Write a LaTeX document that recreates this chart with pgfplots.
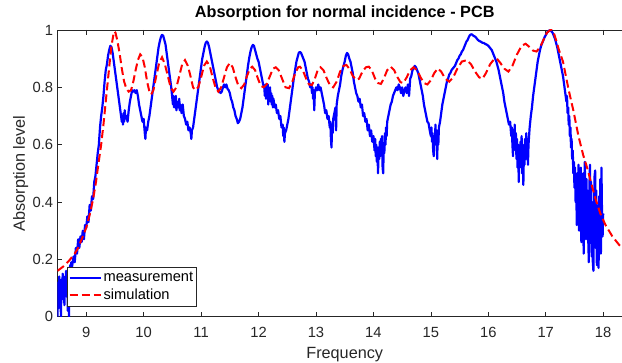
\documentclass[border=0pt]{standalone}
\usepackage{fontspec}
\setmainfont{Liberation Sans}
\usepackage{pgfplots}
\pgfplotsset{compat=1.18}

\definecolor{axisgray}{HTML}{262626}
\definecolor{mblue}{HTML}{0000FF}
\definecolor{sred}{HTML}{FF0000}

\begin{document}
\begin{tikzpicture}
\begin{axis}[
   width=574.4bp, height=286.7bp, scale only axis,
   xmin=8.5, xmax=18.5,
   ymin=0, ymax=1,
   xtick={9,10,11,12,13,14,15,16,17,18},
   ytick={0,0.2,0.4,0.6,0.8,1},
   yticklabels={0,0.2,0.4,0.6,0.8,1},
   tick align=inside,
   major tick length=5bp,
   axis line style={color=axisgray, line width=0.5bp},
   every tick/.style={color=axisgray, line width=0.5bp},
   /pgf/number format/assume math mode=true,
   tick label style={font=\fontsize{14.8}{16}\selectfont, color=axisgray, inner sep=0pt},
   yticklabel style={xshift=-4.2bp},
   xticklabel style={yshift=-10bp},
   xlabel={Frequency},
   ylabel={Absorption level},
   xlabel style={at={(axis description cs:0.5,-0.145)}, anchor=base, font=\fontsize{16.3}{18}\selectfont, color=axisgray, inner sep=0pt},
   ylabel style={at={(axis description cs:-0.0566,0.5)}, anchor=base, font=\fontsize{16.3}{18}\selectfont, color=axisgray, inner sep=0pt},
   title={Absorption for normal incidence - PCB},
   title style={at={(axis description cs:0.5,1.0234)}, anchor=base, font=\fontsize{16.3}{18}\selectfont\bfseries, inner sep=0pt},
   legend cell align=left,
   legend image code/.code={\draw[#1] (0bp,0bp) -- (31bp,0bp);},
   legend style={at={(axis description cs:0,0)}, anchor=south west, xshift=9.2bp, yshift=10bp,
      draw=axisgray, line width=0.5bp, fill=white, inner xsep=1.5bp, inner ysep=3.5bp,
      row sep=1.5bp, font=\fontsize{14.7}{16}\selectfont, nodes={inner sep=2bp}},
]

% measurement
\addplot[mblue, line width=2.2bp, line join=round] coordinates {
(8.50,0.00) (8.51,0.12) (8.52,0.03) (8.53,0.14) (8.54,0.05) (8.55,0.10) (8.56,0.00) (8.57,0.13)
(8.58,0.06) (8.59,0.15) (8.60,0.08) (8.61,0.14) (8.62,0.04) (8.63,0.12) (8.64,0.09) (8.65,0.16)
(8.66,0.07) (8.67,0.14) (8.68,0.02) (8.69,0.10) (8.70,0.00) (8.71,0.12) (8.72,0.18) (8.73,0.13)
(8.74,0.19) (8.75,0.17) (8.78,0.21) (8.80,0.19) (8.82,0.24) (8.84,0.22) (8.86,0.27) (8.88,0.24)
(8.90,0.28) (8.92,0.26) (8.94,0.30) (8.96,0.27) (8.98,0.32) (9.00,0.31) (9.02,0.35) (9.04,0.33)
(9.06,0.39) (9.08,0.37) (9.10,0.42) (9.12,0.41) (9.14,0.47) (9.16,0.49) (9.18,0.53) (9.20,0.57)
(9.22,0.60) (9.24,0.66) (9.26,0.70) (9.28,0.73) (9.30,0.77) (9.32,0.82) (9.34,0.86) (9.36,0.88)
(9.38,0.91) (9.40,0.93) (9.42,0.945) (9.44,0.94) (9.46,0.92) (9.48,0.89) (9.50,0.86) (9.52,0.83)
(9.54,0.80) (9.56,0.77) (9.58,0.74) (9.60,0.71) (9.62,0.68) (9.63,0.70) (9.64,0.67) (9.65,0.71)
(9.66,0.68) (9.67,0.72) (9.68,0.69) (9.70,0.70) (9.72,0.68) (9.74,0.72) (9.76,0.75) (9.78,0.77)
(9.80,0.79) (9.82,0.785) (9.84,0.79) (9.86,0.78) (9.88,0.79) (9.90,0.77) (9.92,0.74) (9.94,0.72)
(9.96,0.70) (9.98,0.68) (10.00,0.69) (10.02,0.64) (10.03,0.62) (10.04,0.66) (10.06,0.65) (10.08,0.68)
(10.10,0.70) (10.12,0.73) (10.14,0.76) (10.16,0.79) (10.18,0.82) (10.20,0.85) (10.22,0.88) (10.24,0.91)
(10.26,0.94) (10.28,0.96) (10.30,0.975) (10.32,0.983) (10.34,0.98) (10.36,0.965) (10.38,0.95) (10.40,0.92)
(10.42,0.89) (10.44,0.86) (10.46,0.83) (10.48,0.80) (10.50,0.76) (10.51,0.74) (10.52,0.77) (10.53,0.73)
(10.54,0.76) (10.55,0.74) (10.56,0.77) (10.57,0.72) (10.58,0.75) (10.60,0.73) (10.62,0.76) (10.63,0.72)
(10.64,0.74) (10.66,0.71) (10.68,0.74) (10.70,0.70) (10.72,0.69) (10.74,0.67) (10.76,0.68) (10.78,0.65)
(10.80,0.66) (10.82,0.64) (10.83,0.62) (10.84,0.65) (10.86,0.66) (10.88,0.69) (10.90,0.72) (10.92,0.75)
(10.94,0.78) (10.96,0.81) (10.98,0.84) (11.00,0.87) (11.02,0.90) (11.04,0.92) (11.06,0.94) (11.08,0.955)
(11.10,0.96) (11.12,0.955) (11.14,0.94) (11.16,0.92) (11.18,0.90) (11.20,0.88) (11.22,0.86) (11.24,0.84)
(11.26,0.82) (11.28,0.80) (11.30,0.79) (11.32,0.785) (11.34,0.78) (11.36,0.785) (11.38,0.80) (11.40,0.81)
(11.42,0.80) (11.44,0.81) (11.46,0.795) (11.48,0.79) (11.50,0.78) (11.52,0.76) (11.54,0.75) (11.56,0.73)
(11.58,0.72) (11.60,0.70) (11.62,0.69) (11.64,0.675) (11.66,0.68) (11.68,0.69) (11.70,0.71) (11.72,0.73)
(11.74,0.76) (11.76,0.79) (11.78,0.82) (11.80,0.85) (11.82,0.88) (11.84,0.905) (11.86,0.925) (11.88,0.94)
(11.90,0.948) (11.92,0.945) (11.94,0.93) (11.96,0.915) (11.98,0.90) (12.00,0.89) (12.02,0.87) (12.04,0.85)
(12.06,0.83) (12.08,0.81) (12.10,0.80) (12.11,0.77) (12.12,0.81) (12.13,0.76) (12.14,0.80) (12.15,0.77)
(12.16,0.81) (12.17,0.74) (12.18,0.79) (12.19,0.76) (12.20,0.80) (12.21,0.75) (12.22,0.78) (12.23,0.74)
(12.24,0.77) (12.25,0.73) (12.26,0.76) (12.28,0.73) (12.30,0.74) (12.32,0.71) (12.34,0.72) (12.36,0.69)
(12.38,0.70) (12.40,0.66) (12.42,0.67) (12.43,0.63) (12.44,0.66) (12.45,0.61) (12.46,0.64) (12.48,0.65)
(12.50,0.67) (12.52,0.69) (12.54,0.72) (12.56,0.75) (12.58,0.78) (12.60,0.81) (12.62,0.84) (12.64,0.865)
(12.66,0.89) (12.68,0.905) (12.70,0.92) (12.72,0.924) (12.74,0.92) (12.76,0.91) (12.78,0.90) (12.80,0.89)
(12.82,0.87) (12.84,0.85) (12.86,0.83) (12.88,0.82) (12.90,0.80) (12.92,0.81) (12.93,0.78) (12.94,0.80)
(12.95,0.76) (12.96,0.79) (12.97,0.72) (12.98,0.78) (13.00,0.80) (13.02,0.79) (13.04,0.81) (13.06,0.79)
(13.08,0.80) (13.10,0.78) (13.12,0.76) (13.14,0.74) (13.16,0.71) (13.18,0.72) (13.20,0.69) (13.22,0.70)
(13.24,0.66) (13.25,0.68) (13.26,0.62) (13.27,0.59) (13.28,0.66) (13.29,0.64) (13.30,0.69) (13.32,0.71)
(13.34,0.73) (13.35,0.65) (13.36,0.74) (13.38,0.77) (13.40,0.79) (13.42,0.81) (13.44,0.84) (13.46,0.86)
(13.48,0.875) (13.50,0.89) (13.52,0.91) (13.54,0.92) (13.56,0.915) (13.58,0.90) (13.60,0.89) (13.62,0.87)
(13.64,0.85) (13.66,0.82) (13.68,0.80) (13.70,0.78) (13.72,0.77) (13.74,0.75) (13.76,0.76) (13.78,0.73)
(13.80,0.74) (13.82,0.70) (13.84,0.71) (13.86,0.68) (13.88,0.69) (13.90,0.65) (13.92,0.67) (13.94,0.63)
(13.96,0.65) (13.98,0.61) (14.00,0.63) (14.02,0.58) (14.03,0.62) (14.04,0.56) (14.05,0.60) (14.06,0.54)
(14.07,0.59) (14.08,0.50) (14.09,0.58) (14.10,0.55) (14.11,0.61) (14.12,0.56) (14.13,0.62) (14.14,0.57)
(14.15,0.63) (14.16,0.52) (14.17,0.50) (14.18,0.60) (14.19,0.57) (14.20,0.64) (14.21,0.60) (14.22,0.66)
(14.23,0.63) (14.24,0.68) (14.26,0.70) (14.28,0.72) (14.30,0.74) (14.32,0.75) (14.34,0.77) (14.36,0.78)
(14.38,0.79) (14.40,0.80) (14.42,0.79) (14.44,0.81) (14.46,0.80) (14.48,0.78) (14.50,0.80) (14.52,0.77)
(14.54,0.79) (14.56,0.80) (14.58,0.78) (14.60,0.81) (14.62,0.77) (14.64,0.83) (14.66,0.84) (14.68,0.86)
(14.70,0.865) (14.72,0.875) (14.74,0.87) (14.76,0.86) (14.78,0.85) (14.80,0.83) (14.82,0.81) (14.84,0.79)
(14.86,0.77) (14.88,0.74) (14.90,0.72) (14.92,0.70) (14.94,0.68) (14.96,0.675) (14.98,0.65) (15.00,0.63)
(15.01,0.66) (15.02,0.61) (15.03,0.64) (15.04,0.58) (15.05,0.56) (15.06,0.62) (15.07,0.60) (15.08,0.67)
(15.09,0.60) (15.10,0.65) (15.11,0.55) (15.12,0.63) (15.13,0.60) (15.14,0.66) (15.16,0.68) (15.18,0.71)
(15.20,0.74) (15.22,0.76) (15.24,0.78) (15.26,0.80) (15.28,0.82) (15.30,0.83) (15.32,0.845) (15.34,0.85)
(15.36,0.86) (15.38,0.865) (15.40,0.87) (15.42,0.875) (15.44,0.885) (15.46,0.895) (15.48,0.90) (15.50,0.91)
(15.52,0.915) (15.54,0.925) (15.56,0.93) (15.58,0.94) (15.60,0.95) (15.62,0.96) (15.64,0.965) (15.66,0.975)
(15.68,0.982) (15.70,0.985) (15.72,0.984) (15.74,0.98) (15.76,0.978) (15.78,0.975) (15.80,0.97) (15.82,0.965)
(15.84,0.962) (15.86,0.96) (15.88,0.958) (15.90,0.955) (15.92,0.955) (15.94,0.952) (15.96,0.95) (15.98,0.948)
(16.00,0.945) (16.02,0.94) (16.04,0.935) (16.06,0.93) (16.08,0.92) (16.10,0.91) (16.12,0.90) (16.14,0.89)
(16.16,0.875) (16.18,0.86) (16.20,0.84) (16.22,0.82) (16.24,0.80) (16.26,0.78) (16.28,0.75) (16.30,0.73)
(16.32,0.71) (16.34,0.69) (16.36,0.67) (16.38,0.68) (16.40,0.63) (16.41,0.66) (16.42,0.60) (16.43,0.56)
(16.44,0.64) (16.45,0.61) (16.46,0.67) (16.47,0.58) (16.48,0.64) (16.49,0.55) (16.50,0.62) (16.51,0.52)
(16.52,0.60) (16.53,0.47) (16.54,0.58) (16.55,0.52) (16.56,0.61) (16.57,0.55) (16.58,0.63) (16.59,0.50)
(16.60,0.60) (16.61,0.46) (16.62,0.58) (16.63,0.53) (16.64,0.62) (16.65,0.55) (16.66,0.64) (16.67,0.58)
(16.68,0.62) (16.69,0.53) (16.70,0.60) (16.72,0.66) (16.74,0.70) (16.76,0.73) (16.78,0.77) (16.80,0.80)
(16.82,0.83) (16.84,0.86) (16.86,0.89) (16.88,0.91) (16.90,0.93) (16.92,0.945) (16.94,0.955) (16.96,0.965)
(16.98,0.975) (17.00,0.982) (17.02,0.99) (17.04,0.995) (17.06,0.998) (17.08,0.999) (17.10,0.995) (17.12,0.99)
(17.14,0.98) (17.16,0.97) (17.18,0.955) (17.20,0.94) (17.22,0.92) (17.24,0.90) (17.26,0.88) (17.28,0.86)
(17.30,0.84) (17.32,0.81) (17.34,0.78) (17.36,0.75) (17.37,0.77) (17.38,0.71) (17.39,0.73) (17.40,0.67)
(17.41,0.70) (17.42,0.63) (17.43,0.66) (17.44,0.59) (17.45,0.62) (17.46,0.55) (17.47,0.58) (17.48,0.50)
(17.49,0.54) (17.50,0.45) (17.51,0.52) (17.52,0.40) (17.53,0.50) (17.54,0.32) (17.55,0.47) (17.56,0.42)
(17.57,0.53) (17.58,0.30) (17.59,0.49) (17.60,0.38) (17.61,0.52) (17.62,0.26) (17.63,0.44) (17.64,0.37)
(17.65,0.50) (17.66,0.22) (17.67,0.41) (17.68,0.54) (17.69,0.35) (17.70,0.27) (17.71,0.48) (17.72,0.30)
(17.73,0.44) (17.74,0.27) (17.75,0.19) (17.76,0.45) (17.77,0.53) (17.78,0.31) (17.79,0.47) (17.80,0.21)
(17.81,0.40) (17.82,0.19) (17.83,0.16) (17.84,0.36) (17.85,0.49) (17.86,0.51) (17.87,0.24) (17.88,0.44)
(17.89,0.18) (17.90,0.38) (17.91,0.25) (17.92,0.17) (17.93,0.42) (17.94,0.33) (17.95,0.48) (17.96,0.22)
(17.97,0.52) (17.98,0.35) (17.99,0.28) (18.00,0.36)
};
\addlegendentry{measurement}

% simulation
\addplot[sred, line width=2bp, dash pattern=on 8bp off 4bp] coordinates {
(8.50,0.160) (8.60,0.175) (8.70,0.195) (8.80,0.22) (8.86,0.24) (8.92,0.27) (9.00,0.31) (9.06,0.355)
(9.12,0.41) (9.17,0.47) (9.21,0.53) (9.26,0.60) (9.30,0.67) (9.34,0.75) (9.38,0.83) (9.41,0.89)
(9.44,0.945) (9.47,0.98) (9.49,0.995) (9.51,0.99) (9.54,0.965) (9.58,0.92) (9.62,0.865) (9.66,0.82)
(9.70,0.795) (9.74,0.785) (9.78,0.79) (9.82,0.82) (9.86,0.86) (9.90,0.895) (9.94,0.915) (9.98,0.905)
(10.02,0.87) (10.06,0.82) (10.10,0.785) (10.13,0.775) (10.17,0.79) (10.22,0.84) (10.27,0.885) (10.32,0.905)
(10.37,0.88) (10.42,0.84) (10.47,0.80) (10.52,0.785) (10.57,0.80) (10.62,0.84) (10.67,0.88) (10.72,0.895)
(10.77,0.875) (10.82,0.835) (10.86,0.80) (10.90,0.79) (10.95,0.80) (11.00,0.835) (11.05,0.875) (11.10,0.89)
(11.15,0.875) (11.20,0.835) (11.25,0.80) (11.30,0.785) (11.35,0.80) (11.40,0.835) (11.45,0.87) (11.50,0.885)
(11.55,0.87) (11.60,0.835) (11.65,0.805) (11.70,0.797) (11.75,0.81) (11.80,0.84) (11.85,0.865) (11.89,0.872)
(11.94,0.86) (11.99,0.83) (12.04,0.805) (12.09,0.80) (12.14,0.81) (12.20,0.84) (12.25,0.865) (12.30,0.87)
(12.35,0.86) (12.41,0.83) (12.47,0.80) (12.53,0.797) (12.58,0.815) (12.64,0.85) (12.69,0.87) (12.72,0.872)
(12.77,0.86) (12.83,0.83) (12.88,0.81) (12.93,0.808) (12.98,0.83) (13.03,0.86) (13.08,0.87) (13.13,0.86)
(13.19,0.83) (13.25,0.805) (13.30,0.80) (13.36,0.82) (13.42,0.855) (13.48,0.875) (13.53,0.878) (13.58,0.865)
(13.64,0.84) (13.70,0.826) (13.75,0.83) (13.81,0.855) (13.87,0.87) (13.92,0.872) (13.97,0.86) (14.03,0.83)
(14.08,0.815) (14.13,0.812) (14.18,0.83) (14.24,0.86) (14.30,0.872) (14.36,0.86) (14.42,0.835) (14.47,0.818)
(14.52,0.815) (14.58,0.835) (14.64,0.86) (14.70,0.87) (14.76,0.86) (14.82,0.835) (14.88,0.815) (14.94,0.81)
(15.00,0.825) (15.06,0.85) (15.12,0.866) (15.18,0.855) (15.25,0.83) (15.32,0.82) (15.39,0.835) (15.46,0.865)
(15.54,0.89) (15.63,0.895) (15.70,0.88) (15.77,0.855) (15.84,0.835) (15.90,0.83) (15.96,0.85) (16.03,0.88)
(16.10,0.898) (16.15,0.90) (16.21,0.885) (16.28,0.865) (16.35,0.855) (16.42,0.875) (16.50,0.915) (16.58,0.945)
(16.65,0.952) (16.72,0.94) (16.78,0.928) (16.84,0.925) (16.90,0.94) (16.96,0.965) (17.02,0.99) (17.07,0.999)
(17.10,1.00) (17.14,0.99) (17.18,0.965) (17.23,0.93) (17.30,0.89) (17.35,0.84) (17.40,0.79) (17.48,0.72)
(17.57,0.63) (17.65,0.565) (17.72,0.52) (17.80,0.46) (17.86,0.415) (17.95,0.36) (18.04,0.32) (18.10,0.30)
(18.16,0.28) (18.22,0.265) (18.28,0.25) (18.34,0.24) (18.40,0.23) (18.50,0.215)
};
\addlegendentry{simulation}
\end{axis}
\pgfresetboundingbox
\path[use as bounding box] ([xshift=-57.5bp,yshift=-46.3bp]current axis.south west)
   rectangle ([xshift=-9.9bp,yshift=30bp]current axis.north east);
\end{tikzpicture}
\end{document}
